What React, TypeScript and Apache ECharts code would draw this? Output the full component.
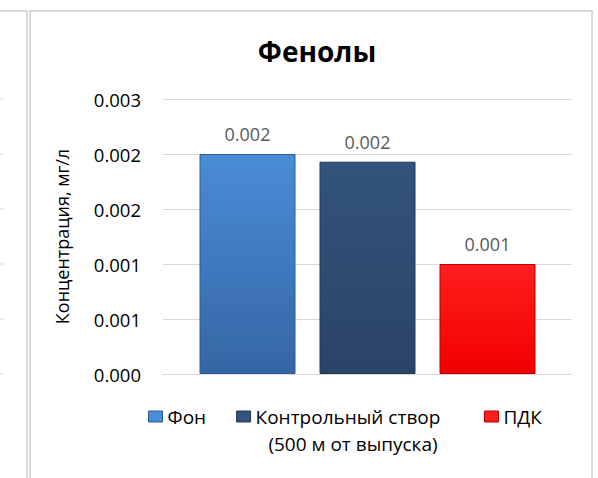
import React, { useEffect, useRef } from "react";
import * as echarts from "echarts";

const categories = [""];
const seriesNames = ["Фон", "Контрольный створ (500 м от выпуска)", "ПДК"];
const legendLabels = ["Фон", "Контрольный створ", "ПДК"];
const seriesValues = [[0.002], [0.00193], [0.001]];
const yTicks = { min: 0, max: 0.0025, interval: 0.0005 };
const titleText = "Фенолы";
const yAxisName = "Концентрация, мг/л";
const legendSecondLine = "(500 м от выпуска)";

const FONT = "'Open Sans', 'Noto Sans', sans-serif";

const fills = [
  { top: "#4a8cd8", bottom: "#3466a4", border: "#2c5a92" },
  { top: "#33537c", bottom: "#2a4466", border: "#203a5a" },
  { top: "#ff1e1e", bottom: "#f20000", border: "#b80000" },
];

const fmt3 = (v: number) => (Math.round(v * 1000 + 1e-6) / 1000).toFixed(3);

export default function App() {
  const ref = useRef<HTMLDivElement>(null);
  useEffect(() => {
    if (!ref.current) return;
    const chart = echarts.init(ref.current, null, { renderer: "svg" });
    const series = seriesNames.map((name, i) => ({
      name,
      type: "bar" as const,
      data: seriesValues[i],
      barWidth: 96,
      barGap: "25%",
      itemStyle: {
        color: new echarts.graphic.LinearGradient(0, 0, 0, 1, [
          { offset: 0, color: fills[i].top },
          { offset: 1, color: fills[i].bottom },
        ]),
        borderColor: fills[i].border,
        borderWidth: 1,
      },
      label: {
        show: true,
        position: "top",
        distance: 11,
        formatter: (p: any) => fmt3(p.value),
        color: "#595959",
        fontFamily: FONT,
        fontSize: 18,
      },
    }));
    const gridYs = [99, 154, 209, 264, 319, 374];
    const legendItem = (i: number) => ({
      name: seriesNames[i],
      itemStyle: { color: fills[i].top, borderColor: fills[i].border, borderWidth: 1 },
    });
    const legendBase = {
      top: 407,
      padding: 0,
      itemWidth: 14,
      itemHeight: 11,
      itemGap: 30,
      icon: "rect",
      formatter: (n: string) => legendLabels[seriesNames.indexOf(n)],
      textStyle: { fontFamily: FONT, fontSize: 19, color: "#000" },
      selectedMode: false,
    };
    chart.setOption({
      animation: false,
      backgroundColor: "#ffffff",
      title: {
        text: titleText,
        left: 312,
        textAlign: "center",
        top: 32,
        textStyle: { fontFamily: FONT, fontSize: 28, fontWeight: "bold", color: "#000" },
      },
      grid: { left: 163, right: 26, top: 99, bottom: 104 },
      xAxis: {
        type: "category",
        data: categories,
        axisTick: { show: false },
        axisLabel: { show: false },
        axisLine: { lineStyle: { color: "#d9d9d9", width: 1 } },
      },
      yAxis: {
        type: "value",
        min: yTicks.min,
        max: yTicks.max,
        interval: yTicks.interval,
        name: yAxisName,
        nameLocation: "middle",
        nameGap: 92,
        nameTextStyle: { fontFamily: FONT, fontSize: 18, color: "#000" },
        axisLine: { show: false },
        axisTick: { show: false },
        axisLabel: {
          formatter: (v: number) => fmt3(v),
          fontFamily: FONT,
          fontSize: 18.5,
          color: "#000",
          margin: 22,
        },
        splitLine: { lineStyle: { color: "#d9d9d9", width: 1 } },
      },
      legend: [
        { ...legendBase, left: 148, data: [legendItem(0), legendItem(1)] },
        { ...legendBase, left: 484, data: [legendItem(2)] },
      ],
      graphic: [
        {
          type: "text",
          x: 353,
          y: 444,
          style: {
            text: legendSecondLine,
            fontFamily: FONT,
            fontSize: 19,
            fill: "#000",
            textAlign: "center",
            textVerticalAlign: "middle",
          },
        },
        {
          type: "rect",
          shape: { x: 30, y: 11, width: 562, height: 480 },
          style: { fill: "none", stroke: "#d9d9d9", lineWidth: 2 },
          silent: true,
        },
        {
          type: "rect",
          shape: { x: -20, y: 11, width: 47, height: 480 },
          style: { fill: "none", stroke: "#d9d9d9", lineWidth: 2 },
          silent: true,
        },
        ...gridYs.map((y) => ({
          type: "line",
          shape: { x1: 0, y1: y, x2: 4, y2: y },
          style: { stroke: "#d9d9d9", lineWidth: 1 },
          silent: true,
        })),
      ],
      series,
    });
    return () => chart.dispose();
  }, []);
  return <div ref={ref} style={{ width: 598, height: 478, position: "absolute", left: 0, top: 0 }} />;
}
